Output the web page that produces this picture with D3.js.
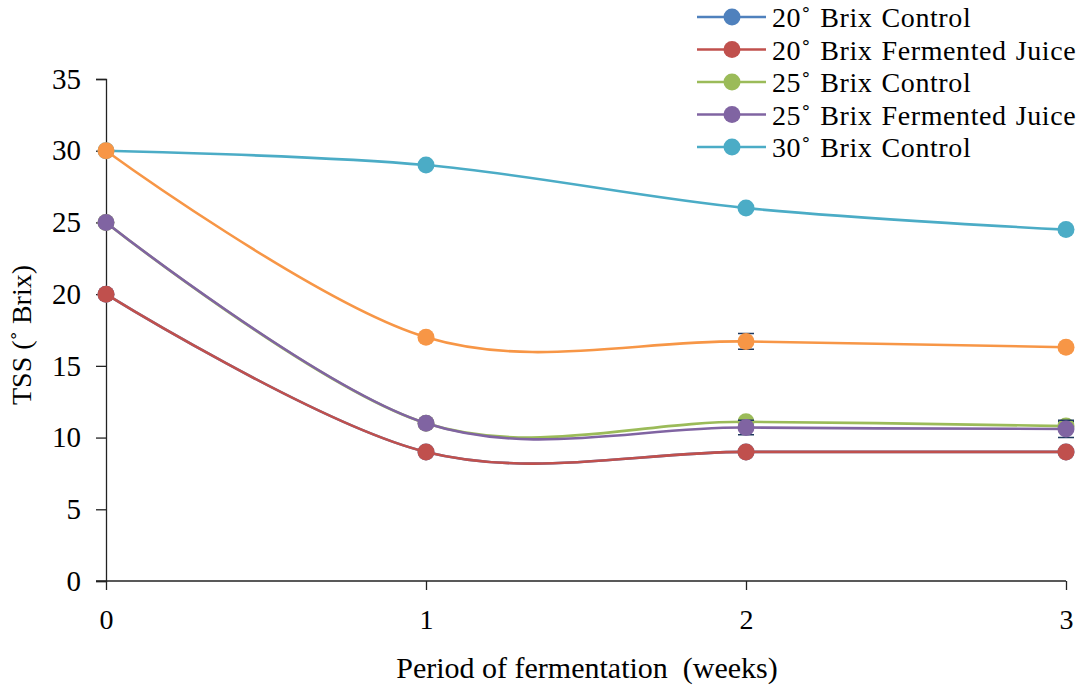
<!DOCTYPE html>
<html>
<head>
<meta charset="utf-8">
<script src="https://cdn.jsdelivr.net/npm/d3@7"></script>
<style>
  body { margin: 0; background: #fff; }
  svg { display: block; }
  text { font-family: "Liberation Serif", "Times New Roman", serif; fill: #000; }
</style>
</head>
<body>
<script>
// weeks of fermentation
var weeks = [0, 1, 2, 3];
var yTicks = [0, 5, 10, 15, 20, 25, 30, 35];

var seriesNames = [
    "20\u02DA Brix Control",
    "20\u02DA Brix Fermented Juice",
    "25\u02DA Brix Control",
    "25\u02DA Brix Fermented Juice",
    "30\u02DA Brix Control",
    "30\u02DA Brix Fermented Juice"
];
var seriesColors = ["#4F81BD", "#C0504D", "#9BBB59", "#8064A2", "#4BACC6", "#F79646"];

var brix20Control = [20, 9, 9, 9];
var brix20Fermented = [20, 9, 9, 9];
var brix25Control = [25, 11, 11.1, 10.8];
var brix25Fermented = [25, 11, 10.7, 10.6];
var brix30Control = [30, 29, 26, 24.5];
var brix30Fermented = [30, 17, 16.7, 16.3];

var err20Control = [0, 0, 0, 0];
var err20Fermented = [0, 0, 0, 0];
var err25Control = [0, 0, 0, 0.3];
var err25Fermented = [0, 0, 0.5, 0.6];
var err30Control = [0, 0, 0, 0];
var err30Fermented = [0, 0, 0.55, 0];

var seriesValues = [brix20Control, brix20Fermented, brix25Control, brix25Fermented, brix30Control, brix30Fermented];
var seriesErrors = [err20Control, err20Fermented, err25Control, err25Fermented, err30Control, err30Fermented];

var legendCount = 5; // last series falls outside the visible legend

var W = 1088, H = 688;
var svg = d3.select("body").append("svg").attr("width", W).attr("height", H);

var x = d3.scaleLinear().domain([0, 3]).range([106, 1066]);
var y = d3.scaleLinear().domain([0, 35]).range([581, 79]);

// y axis
var yAxis = svg.append("g")
    .attr("transform", "translate(" + x(0) + ",0)")
    .call(d3.axisLeft(y).tickValues(yTicks).tickSize(10).tickPadding(15));
yAxis.select(".domain").attr("stroke", "#222").attr("stroke-width", 1.3);
yAxis.selectAll(".tick line").attr("stroke", "#222").attr("stroke-width", 1.3);
yAxis.selectAll("text").style("font-size", "29px").attr("fill", "#222");

// x axis
var xAxis = svg.append("g")
    .attr("transform", "translate(0," + y(0) + ")")
    .call(d3.axisBottom(x).tickValues(weeks).tickFormat(d3.format("d")).tickSize(9).tickPadding(19));
xAxis.select(".domain").attr("d", "M" + (x(0) - 10) + ",0H" + x(3)).attr("stroke", "#222").attr("stroke-width", 1.3);
xAxis.selectAll(".tick line").attr("stroke", "#222").attr("stroke-width", 1.3);
xAxis.selectAll("text").style("font-size", "28px").attr("fill", "#222");

// axis titles
svg.append("text")
    .attr("x", 587)
    .attr("y", 678)
    .attr("text-anchor", "middle")
    .style("font-size", "30px")
    .attr("fill", "#222")
    .style("white-space", "pre")
    .text("Period of fermentation  (weeks)");

svg.append("text")
    .attr("transform", "translate(31,335) rotate(-90)")
    .attr("text-anchor", "middle")
    .style("font-size", "28px")
    .attr("fill", "#222")
    .text("TSS (\u02DA Brix)");

var line = d3.line()
    .x(function(d, i) { return x(weeks[i]); })
    .y(function(d) { return y(d); })
    .curve(d3.curveCardinal.tension(0));

var plot = svg.append("g");

seriesValues.forEach(function(vals, s) {
    var g = plot.append("g");
    g.append("path")
        .attr("d", line(vals))
        .attr("fill", "none")
        .attr("stroke", seriesColors[s])
        .attr("stroke-width", 2.6);

    // error bars
    vals.forEach(function(v, i) {
        var e = seriesErrors[s][i];
        if (!e) return;
        var cx = x(weeks[i]);
        g.append("path")
            .attr("d", "M" + (cx - 8) + "," + y(v + e) + "H" + (cx + 8) +
                       "M" + cx + "," + y(v + e) + "V" + y(v - e) +
                       "M" + (cx - 8) + "," + y(v - e) + "H" + (cx + 8))
            .attr("fill", "none")
            .attr("stroke", "#1F3A5F")
            .attr("stroke-width", 1.5);
    });

    g.selectAll("circle")
        .data(vals)
        .enter().append("circle")
        .attr("cx", function(d, i) { return x(weeks[i]); })
        .attr("cy", function(d) { return y(d); })
        .attr("r", 8.5)
        .attr("fill", seriesColors[s]);
});

// legend
var legend = svg.append("g");
seriesNames.slice(0, legendCount).forEach(function(name, i) {
    var ly = 17 + i * 32.5;
    legend.append("line")
        .attr("x1", 697).attr("x2", 766)
        .attr("y1", ly).attr("y2", ly)
        .attr("stroke", seriesColors[i])
        .attr("stroke-width", 2.6);
    legend.append("circle")
        .attr("cx", 732).attr("cy", ly).attr("r", 8.5)
        .attr("fill", seriesColors[i]);
    legend.append("text")
        .attr("x", 772).attr("y", ly + 10)
        .style("font-size", "28px")
        .style("letter-spacing", "0.6px")
        .style("word-spacing", "1.5px")
        .attr("fill", "#111")
        .text(name);
});
</script>
</body>
</html>
